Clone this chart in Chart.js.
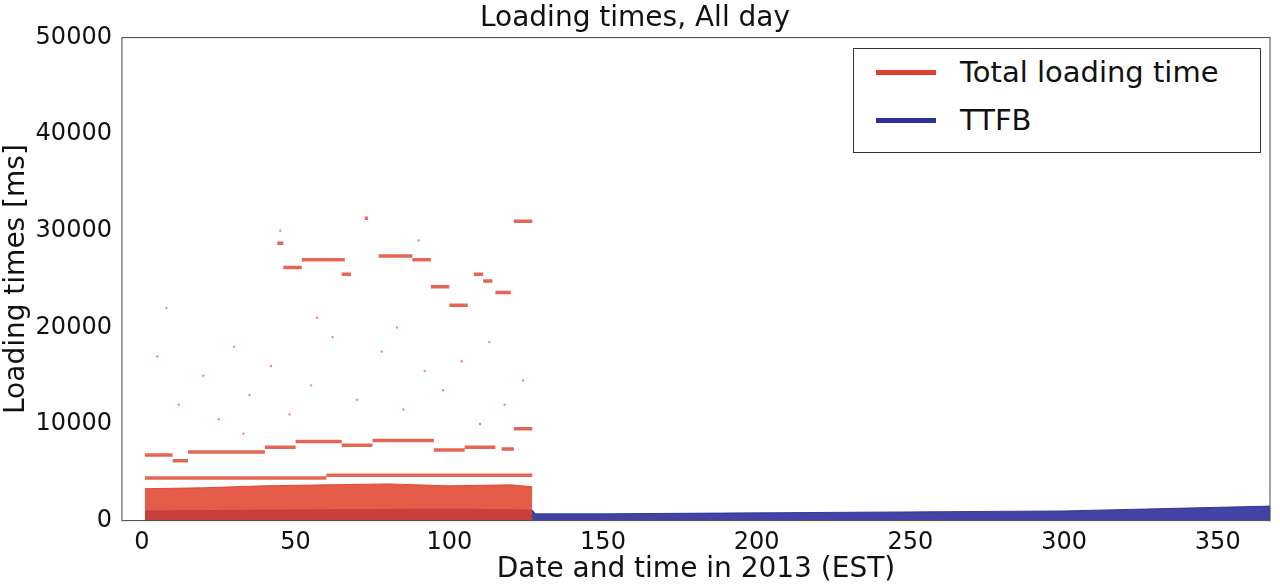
<!DOCTYPE html>
<html><head><meta charset="utf-8">
<script src="https://cdn.jsdelivr.net/npm/chart.js@4/dist/chart.umd.min.js"></script>
<style>
body{margin:0;background:#fff;font-family:"DejaVu Sans",sans-serif}
#wrap{position:relative;width:1280px;height:587px}
#leg{position:absolute;left:853px;top:48px;width:406px;height:103px;border:1px solid #333;background:#fff;font-size:29px;color:#111}
.row{position:absolute;left:22px;display:flex;align-items:center}
.sw{width:60px;height:5px;margin-right:24px}
</style></head><body>
<div id="wrap"><canvas id="c" width="1280" height="587"></canvas>
<div id="leg"><div class="row" style="top:6px"><div class="sw" style="background:#e0402a"></div>Total loading time</div>
<div class="row" style="top:54px"><div class="sw" style="background:#2d2f9a"></div>TTFB</div></div></div>
<script>
// horizontal red streaks: start x, end x, y
const streakX1=[44,46,52,65,72.5,77,88,94,100,108,111,115,121,121,117,1,10,15,40,50,65,75,95,105,1,60];
const streakX2=[46,52,66,68,73.5,88,94,100,106,111,114,120,127,127,121,10,15,40,50,65,75,95,105,115,60,127];
const streakY=[28700,26200,27000,25500,31300,27400,27000,24200,22300,25500,24800,23600,31000,9500,7400,6800,6200,7100,7600,8200,7800,8300,7300,7600,4400,4700];
// dense bands: x, top of band
const redBandX=[1,20,40,60,80,100,120,127];
const redBandTop=[3300,3400,3600,3700,3800,3600,3700,3500];
const blueBandX=[1,50,100,127,128,150,200,250,300,340,367];
const blueBandTop=[1000,1100,1200,1100,700,700,800,900,1000,1300,1500];
// sparse red dots
const dotX=[5,12,20,25,30,35,42,48,55,62,70,78,85,92,98,104,110,118,124,8,33,57,83,113,45,90];
const dotY=[17000,12000,15000,10500,18000,13000,16000,11000,14000,19000,12500,17500,11500,15500,13500,16500,10000,12000,14500,22000,9000,21000,20000,18500,30000,29000];

const streakData=[];
streakX1.forEach((x,i)=>{streakData.push({x:x,y:streakY[i]},{x:streakX2[i],y:streakY[i]},{x:null,y:null});});
const box={id:'box',afterDraw(c){const a=c.chartArea,g=c.ctx;g.save();g.strokeStyle='#444';g.lineWidth=1;g.strokeRect(a.left,a.top,a.right-a.left,a.bottom-a.top);g.restore();}};
new Chart(document.getElementById('c'),{
 type:'scatter',
 data:{datasets:[
  {type:'line',data:redBandX.map((x,i)=>({x:x,y:redBandTop[i]})),borderColor:'rgba(224,64,42,0.9)',backgroundColor:'rgba(224,64,42,0.85)',fill:'origin',pointRadius:0,borderWidth:1},
  {type:'line',data:streakData,borderColor:'rgba(224,64,42,0.8)',borderWidth:3.5,pointRadius:0,spanGaps:false,fill:false},
  {data:dotX.map((x,i)=>({x:x,y:dotY[i]})),pointRadius:1.2,backgroundColor:'rgba(224,64,42,0.6)',borderWidth:0},
  {type:'line',data:blueBandX.map((x,i)=>({x:x,y:blueBandTop[i]})),borderColor:'rgba(45,47,154,0.9)',backgroundColor:'rgba(45,47,154,0.9)',fill:'origin',pointRadius:0,borderWidth:1,tension:0}
 ]},
 options:{responsive:false,animation:false,
  layout:{padding:{left:0,right:10,top:0,bottom:0}},
  plugins:{legend:{display:false},tooltip:{enabled:false},
   title:{display:true,text:'Loading times, All day',color:'#111',font:{size:28,family:'DejaVu Sans',weight:'normal'},padding:{top:2,bottom:2}}},
  scales:{
   x:{type:'linear',min:-6.5,max:367,grid:{display:false},border:{display:false},
      afterBuildTicks(a){a.ticks=[0,50,100,150,200,250,300,350].map(v=>({value:v}));},
      ticks:{color:'#111',font:{size:24,family:'DejaVu Sans'},padding:0},
      title:{display:true,text:'Date and time in 2013 (EST)',color:'#111',font:{size:28,family:'DejaVu Sans'},padding:{top:-4,bottom:0}}},
   y:{min:0,max:50000,grid:{display:false},border:{display:false},
      ticks:{stepSize:10000,color:'#111',font:{size:24,family:'DejaVu Sans'},padding:2,callback:v=>String(v)},
      title:{display:true,text:'Loading times [ms]',color:'#111',font:{size:28,family:'DejaVu Sans'},padding:{top:0,bottom:0}}}
  }},
 plugins:[box]
});
</script></body></html>
